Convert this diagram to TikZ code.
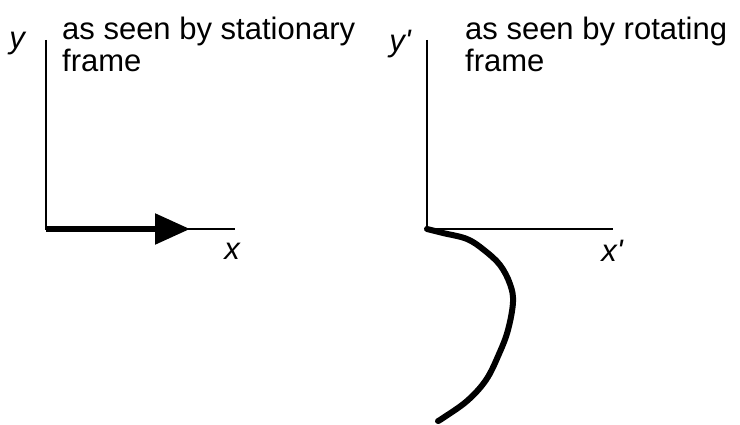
\documentclass[tikz,border=0pt]{standalone}
\usepackage{fontspec}
\setmainfont{Liberation Sans}
\usetikzlibrary{arrows.meta,positioning}

\tikzset{
    axislabel/.style={font=\fontsize{31}{31}\selectfont\itshape},
    caption/.style={anchor=north west, align=left, inner sep=0pt, font=\fontsize{31}{32}\selectfont}
}

\begin{document}
\begin{tikzpicture}[x=1pt, y=-1pt]
        \useasboundingbox (0,0) rectangle (740,425);
        % stationary frame
        \coordinate (o1) at (46,229);
        \coordinate (ytop1) at (46,40);
        \coordinate (xend1) at (235,229);
        \coordinate (tip1) at (190,229);
        \draw [line width=2.2pt] (ytop1) -- (o1) -- (xend1);
        \draw [line width=5.5pt, -{Triangle[length=35pt, width=30pt]}] (o1) -- (tip1);
        \node [axislabel] (ylab1) at (17,44) {y};
        \node [axislabel] (xlab1) at (232,251) {x};
        \node [caption] (cap1) at (62,17) {as seen by stationary\\frame};

        % rotating frame
        \coordinate (o2) at (427,229);
        \coordinate (ytop2) at (427,40);
        \coordinate (xend2) at (613,229);
        \draw [line width=2.2pt] (ytop2) -- (o2) -- (xend2);
        \node [axislabel] (ylab2) at (400,44) {y\textquotesingle};
        \node [axislabel] (xlab2) at (612,251) {x\textquotesingle};
        \node [caption] (cap2) at (465,17) {as seen by rotating\\frame};
        \draw [line width=6pt, line cap=round, line join=round] plot [smooth, tension=0.6] coordinates
            {(o2) (443,233) (467,239) (484,250) (500,265) (510,284) (513,302) (508,330) (499,354) (486,380) (467,401) (443,418) (438,421)};
    \end{tikzpicture}
\end{document}
